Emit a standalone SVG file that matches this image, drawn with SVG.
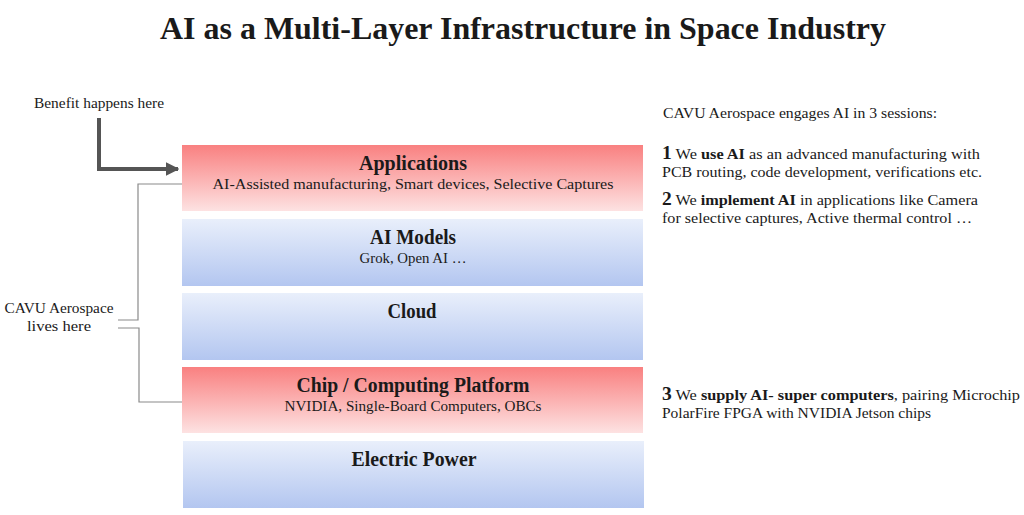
<svg xmlns="http://www.w3.org/2000/svg" width="1024" height="515" viewBox="0 0 1024 515">
<defs>
<linearGradient id="red" x1="0" y1="0" x2="0" y2="1">
<stop offset="0" stop-color="#f98080"/>
<stop offset="1" stop-color="#fde2e2"/>
</linearGradient>
<linearGradient id="blue" x1="0" y1="0" x2="0" y2="1">
<stop offset="0" stop-color="#e9effb"/>
<stop offset="1" stop-color="#b3c6f0"/>
</linearGradient>
<marker id="ah" viewBox="0 0 10 10" refX="9" refY="5" markerWidth="3.4" markerHeight="3.4" orient="auto" markerUnits="strokeWidth">
<path d="M0,0 L10,5 L0,10 z" fill="#555"/>
</marker>
<style>
text{font-family:"Liberation Serif","DejaVu Serif",serif;fill:#1a1a1a}
.ttl{font-size:32px;font-weight:bold}
.bt{font-size:20px;font-weight:bold;text-anchor:middle}
.bs{font-size:15px;text-anchor:middle}
.note{font-size:15px}
.num{font-size:18px;font-weight:bold}
.b{font-weight:bold}
.thin{fill:none;stroke:#8a8a8a;stroke-width:1.2}
</style>
</defs>
<rect width="1024" height="515" fill="#fff"/>
<text class="ttl" x="160" y="39" textLength="726" lengthAdjust="spacingAndGlyphs">AI as a Multi-Layer Infrastructure in Space Industry</text>

<g id="applications">
<rect x="182" y="145" width="461" height="66" fill="url(#red)"/>
<text class="bt" x="413" y="170" textLength="108" lengthAdjust="spacingAndGlyphs">Applications</text>
<text class="bs" x="413" y="189" textLength="401" lengthAdjust="spacingAndGlyphs">AI-Assisted manufacturing, Smart devices, Selective Captures</text>
</g>
<g id="ai-models">
<rect x="182" y="219" width="461" height="67" fill="url(#blue)"/>
<text class="bt" x="413" y="244" textLength="86" lengthAdjust="spacingAndGlyphs">AI Models</text>
<text class="bs" x="413" y="263" textLength="107" lengthAdjust="spacingAndGlyphs">Grok, Open AI …</text>
</g>
<g id="cloud">
<rect x="182" y="293" width="461" height="67" fill="url(#blue)"/>
<text class="bt" x="412" y="318" textLength="49" lengthAdjust="spacingAndGlyphs">Cloud</text>
</g>
<g id="chip">
<rect x="182" y="367" width="461" height="66" fill="url(#red)"/>
<text class="bt" x="413" y="392" textLength="233" lengthAdjust="spacingAndGlyphs">Chip / Computing Platform</text>
<text class="bs" x="413" y="411" textLength="257" lengthAdjust="spacingAndGlyphs">NVIDIA, Single-Board Computers, OBCs</text>
</g>
<g id="electric-power">
<rect x="183" y="441" width="461" height="67" fill="url(#blue)"/>
<text class="bt" x="414" y="466" textLength="125" lengthAdjust="spacingAndGlyphs">Electric Power</text>
</g>

<g id="benefit-label">
<text class="note" x="34" y="108" font-size="14" textLength="130" lengthAdjust="spacingAndGlyphs">Benefit happens here</text>
</g>
<g id="cavu-label">
<text class="note" x="59" y="313" text-anchor="middle" textLength="109" lengthAdjust="spacingAndGlyphs">CAVU Aerospace</text>
<text class="note" x="59" y="331" text-anchor="middle" textLength="64" lengthAdjust="spacingAndGlyphs">lives here</text>
</g>

<g id="connectors">
<path d="M99,118 V169 H178" fill="none" stroke="#555" stroke-width="4" marker-end="url(#ah)"/>
<path class="thin" d="M182,184 H138 V320 H118"/>
<path class="thin" d="M118,328 H139 V402 H182"/>
</g>

<g id="sessions">
<text class="note" x="663" y="118" textLength="274" lengthAdjust="spacingAndGlyphs">CAVU Aerospace engages AI in 3 sessions:</text>
<text class="note" x="662" y="159" textLength="318" lengthAdjust="spacingAndGlyphs"><tspan class="num">1</tspan> We <tspan class="b">use AI</tspan> as an advanced manufacturing with</text>
<text class="note" x="662" y="177" textLength="320" lengthAdjust="spacingAndGlyphs">PCB routing, code development, verifications etc.</text>
<text class="note" x="662" y="205" textLength="316" lengthAdjust="spacingAndGlyphs"><tspan class="num">2</tspan> We <tspan class="b">implement AI</tspan> in applications like Camera</text>
<text class="note" x="662" y="223" textLength="310" lengthAdjust="spacingAndGlyphs">for selective captures, Active thermal control …</text>
<text class="note" x="662" y="400" textLength="358" lengthAdjust="spacingAndGlyphs"><tspan class="num">3</tspan> We <tspan class="b">supply AI- super computers</tspan>, pairing Microchip</text>
<text class="note" x="662" y="418" textLength="269" lengthAdjust="spacingAndGlyphs">PolarFire FPGA with NVIDIA Jetson chips</text>
</g>
</svg>
